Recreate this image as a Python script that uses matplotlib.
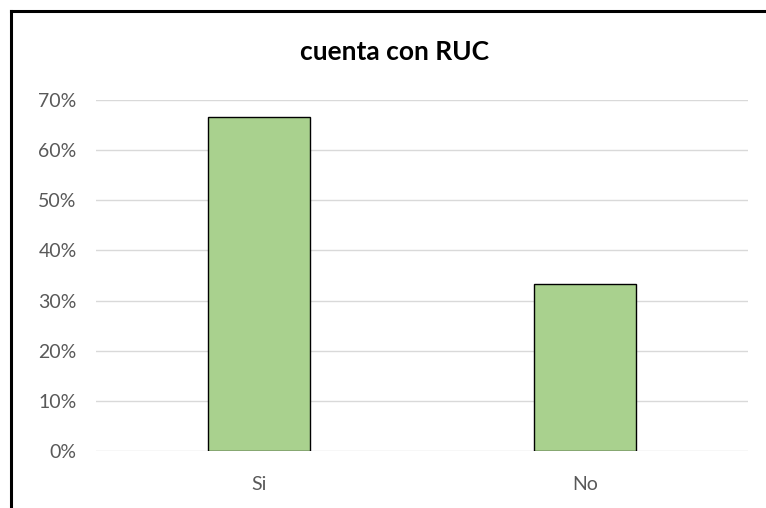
import matplotlib.pyplot as plt
from matplotlib.lines import Line2D
from matplotlib.ticker import FuncFormatter

categories = ["Si", "No"]
values = [0.667, 0.333]
yticks = [0, 0.1, 0.2, 0.3, 0.4, 0.5, 0.6, 0.7]

W, H = 766, 508
fig = plt.figure(figsize=(W / 100, H / 100), dpi=100)
plt.rcParams['font.family'] = ['Lato', 'DejaVu Sans']

ax = fig.add_axes([96 / W, 1 - 451 / H, (748 - 96) / W, (451 - 100) / H])
ax.bar(range(len(categories)), values, width=0.313, color="#a9d18e",
       edgecolor="black", linewidth=1.0, zorder=3)

ax.set_xlim(-0.5, 1.5)
ax.set_ylim(0, 0.7)
ax.set_yticks(yticks)
ax.yaxis.set_major_formatter(FuncFormatter(lambda v, p: f"{v * 100:.0f}%"))
ax.set_xticks(range(len(categories)))
ax.set_xticklabels(categories)
ax.grid(axis="y", color="#d9d9d9", linewidth=1.0, zorder=0)
for s in ax.spines.values():
    s.set_visible(False)
ax.tick_params(axis="both", length=0, labelsize=14, labelcolor="#595959")
ax.tick_params(axis="y", pad=14)
ax.tick_params(axis="x", pad=18)

fig.text(395 / W, 1 - 52 / H, "cuenta con RUC", ha="center", va="center",
         fontsize=19, fontweight="bold", color="black")

# frame of the chart area (left and top edges visible)
fig.add_artist(Line2D([11 / W, 11 / W], [-0.05, 1 - 11 / H], color="black", linewidth=2.2))
fig.add_artist(Line2D([11 / W, 1.05], [1 - 11 / H, 1 - 11 / H], color="black", linewidth=2.2))

fig.savefig("out.png", dpi=100)
